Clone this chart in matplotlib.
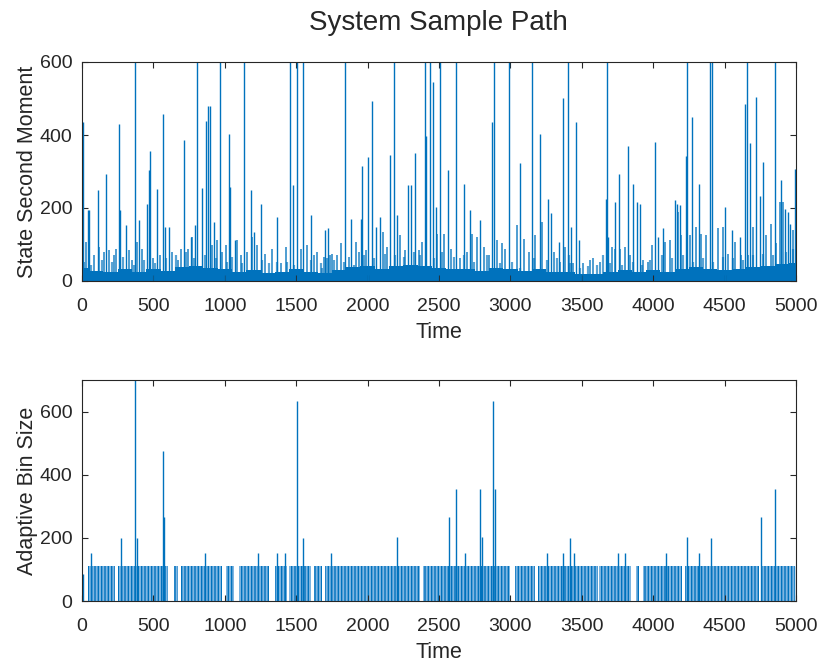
import matplotlib.pyplot as plt

# ---- top panel: state second moment ----
# tall spikes (time, value); 650 means clipped at the top
moment_spike_t = [5, 44, 52, 110, 168, 256, 268, 305, 373, 396, 454, 466, 473, 524, 568,
                  582, 610, 713, 762, 793, 805, 839, 871, 885, 894, 927, 967, 1030, 1035,
                  1072, 1135, 1181, 1205, 1251, 1363, 1456, 1480, 1503, 1550, 1601, 1699,
                  1722, 1839, 1885, 1951, 1962, 2002, 2030, 2062, 2090, 2160, 2184, 2207,
                  2284, 2307, 2335, 2400, 2412, 2440, 2456, 2477, 2508, 2561, 2619, 2678,
                  2715, 2785, 2873, 2883, 2990, 3064, 3148, 3204, 3262, 3286, 3337, 3367,
                  3400, 3423, 3458, 3481, 3667, 3677, 3686, 3735, 3758, 3821, 3861, 3889,
                  3907, 4012, 4033, 4066, 4152, 4164, 4191, 4229, 4238, 4275, 4320, 4396,
                  4410, 4506, 4553, 4609, 4643, 4655, 4676, 4718, 4746, 4769, 4851, 4897,
                  4920, 4944, 4955, 4990]
moment_spike_v = [435, 194, 194, 248, 294, 430, 194, 153, 650, 166, 212, 303, 355, 253, 457,
                  148, 148, 386, 121, 153, 650, 255, 439, 480, 480, 162, 650, 404, 257,
                  112, 650, 248, 134, 212, 175, 650, 262, 650, 650, 180, 139,
                  144, 650, 171, 171, 315, 341, 494, 148, 175, 346, 650, 180,
                  262, 262, 350, 650, 398, 650, 544, 203, 650, 303, 650, 266,
                  194, 166, 436, 650, 650, 324, 650, 404, 225, 185, 107, 500,
                  650, 148, 436, 112, 225, 650, 121, 216, 294, 369, 265, 216,
                  212, 382, 121, 144, 221, 212, 207, 342, 650, 450, 265, 650,
                  650, 203, 139, 121, 485, 650, 378, 503, 233, 327, 650, 278,
                  198, 189, 157, 307]

# medium spikes standing out of the dense band
moment_mid_t = [28, 86, 121, 151, 191, 226, 238, 331, 350, 384, 419, 494, 548, 629, 669,
                692, 743, 769, 913, 948, 983, 1007, 1088, 1111, 1153, 1193, 1228, 1279,
                1333, 1391, 1426, 1531, 1577, 1624, 1647, 1694, 1736, 1718, 1753, 1783,
                1811, 1869, 1916, 1939, 1986, 2109, 2137, 2230, 2265, 2358, 2382, 2487,
                2538, 2587, 2650, 2696, 2731, 2766, 2813, 2848, 2906, 2941, 2964, 3046,
                3092, 3127, 3174, 3220, 3302, 3349, 3384, 3441, 3511, 3558, 3581, 3628,
                3709, 3732, 3767, 3802, 3837, 3931, 3965, 3989, 4082, 4117, 4175, 4198,
                4257, 4303, 4338, 4373, 4455, 4490, 4525, 4571, 4618, 4664, 4699, 4793,
                4828, 4863, 4886, 4909, 4979]
moment_mid_v = [107, 71, 94, 80, 85, 71, 89, 85, 57, 107, 89, 62, 71, 80, 57,
                89, 89, 121, 98, 112, 80, 98, 112, 71, 80, 121, 98, 75,
                89, 48, 94, 89, 98, 71, 80, 66, 71, 62, 75, 71,
                103, 66, 107, 80, 85, 134, 94, 125, 85, 85, 107, 130,
                130, 89, 62, 80, 130, 121, 94, 71, 112, 103, 89, 153,
                116, 80, 125, 162, 80, 53, 94, 48, 48, 57, 62, 53,
                94, 89, 89, 94, 71, 57, 53, 98, 107, 112, 189, 125,
                125, 148, 130, 125, 144, 148, 75, 107, 71, 71, 148, 125,
                157, 103, 216, 216, 139]

# low lines inside the band
moment_low_t = [16, 63, 137, 207, 284, 366, 436, 510, 587, 657, 727, 785, 860, 937, 1018,
                1053, 1123, 1263, 1309, 1368, 1438, 1484, 1601, 1671, 1683, 1764, 1834,
                1904, 1974, 2044, 2125, 2195, 2254, 2323, 2370, 2463, 2521, 2603, 2673,
                2743, 2836, 2929, 3011, 3069, 3162, 3255, 3325, 3407, 3418, 3488, 3546,
                3604, 3651, 3698, 3779, 3861, 3919, 3980, 4059, 4129, 4210, 4280, 4350,
                4420, 4490, 4560, 4630, 4699, 4769, 4839, 4932, 4979]
moment_low_v = [53, 44, 57, 53, 66, 44, 57, 48, 62, 71, 80, 62, 71, 62, 53,
                66, 48, 57, 48, 53, 53, 44, 57, 48, 35, 57, 53,
                44, 71, 62, 75, 71, 66, 80, 71, 62, 80, 66, 71,
                53, 71, 48, 53, 35, 62, 57, 62, 71, 48, 35, 40,
                44, 71, 48, 44, 53, 44, 57, 71, 62, 71, 53, 62,
                53, 66, 62, 57, 71, 75, 71, 80, 89]

# height of the dense low band, every 100 time units
moment_band_t = list(range(0, 5001, 100))
moment_band_v = [36, 28, 24, 32, 26, 34, 28, 38, 42, 36, 32, 24, 30, 22, 26, 34, 26,
                 22, 30, 38, 42, 34, 40, 44, 40, 36, 32, 34, 28, 36, 32, 28, 34, 24,
                 26, 20, 18, 24, 30, 26, 30, 24, 34, 38, 34, 30, 34, 38, 42, 46, 48]

# ---- bottom panel: adaptive bin size ----
bin_level = 112
bin_on_start = [40, 249, 641, 692, 1007, 1100, 1351, 1450, 1624, 1704, 2391, 3032, 3195,
                3618, 3879, 3930, 4224, 4765]
bin_on_end = [233, 603, 673, 983, 1065, 1309, 1438, 1601, 1680, 2368, 2997, 3172, 3611,
              3844, 3903, 4205, 4741, 4991]
bin_spike_t = [5, 63, 273, 373, 384, 568, 575, 860, 1235, 1363, 1421, 1507, 1549, 1741,
               2207, 2573, 2619, 2685, 2785, 2801, 2880, 2892, 3255, 3365, 3414, 3446,
               3756, 3802, 4089, 4240, 4322, 4408, 4753, 4851, 4998]
bin_spike_v = [85, 153, 199, 720, 199, 474, 267, 153, 153, 153, 153, 632, 199, 153,
               204, 267, 355, 153, 355, 204, 632, 355, 153, 153, 201, 153,
               153, 153, 153, 204, 153, 199, 267, 355, 112]

blue = '#0072BD'
dark = '#262626'

plt.rcParams['font.family'] = ['Liberation Sans', 'DejaVu Sans']
plt.rcParams['hatch.linewidth'] = 1.0


def style(ax, ylabel):
    ax.set_xlim(0, 5000)
    ax.set_xticks(range(0, 5001, 500))
    ax.set_yticks([0, 200, 400, 600])
    ax.tick_params(direction='in', top=True, right=True, length=4, width=0.8,
                   colors=dark, labelsize=14)
    ax.tick_params(axis='x', pad=12)
    ax.tick_params(axis='y', pad=7)
    for s in ax.spines.values():
        s.set_color(dark)
        s.set_linewidth(0.8)
    ax.set_xlabel('Time', fontsize=15.5, color=dark, labelpad=5)
    ax.set_ylabel(ylabel, fontsize=15.5, color=dark, labelpad=1)


fig = plt.figure(figsize=(8.23, 6.61), dpi=100)
fig.text(0.533, 1 - 23 / 661, 'System Sample Path', ha='center', va='center',
         fontsize=20, color=dark)

# top
ax1 = fig.add_axes([82 / 823, 1 - 281 / 661, 714 / 823, 219 / 661])
ax1.fill_between(moment_band_t, 0, moment_band_v, step='mid', color=blue, lw=0)
ax1.vlines(moment_low_t, 0, moment_low_v, colors=blue, linewidth=1.6, alpha=0.65)
ax1.vlines(moment_mid_t, 0, moment_mid_v, colors=blue, linewidth=1.3, alpha=0.75)
ax1.vlines(moment_spike_t, 0, moment_spike_v, colors=blue, linewidth=1.0)
ax1.set_ylim(0, 600)
style(ax1, 'State Second Moment')

# bottom: pulse train at the base level, then the larger bins
ax2 = fig.add_axes([82 / 823, 1 - 601 / 661, 714 / 823, 221 / 661])
for s, e in zip(bin_on_start, bin_on_end):
    ax2.fill_between([s, e], 0, bin_level, color='#7fb6e2', linewidth=0)
    ax2.fill_between([s, e], 0, bin_level, facecolor='none', edgecolor=blue,
                     hatch='|||||', linewidth=0)
ax2.vlines(bin_spike_t, 0, bin_spike_v, colors=blue, linewidth=1.0)
ax2.set_ylim(0, 700)
style(ax2, 'Adaptive Bin Size')

fig.savefig('out.png', dpi=100)
